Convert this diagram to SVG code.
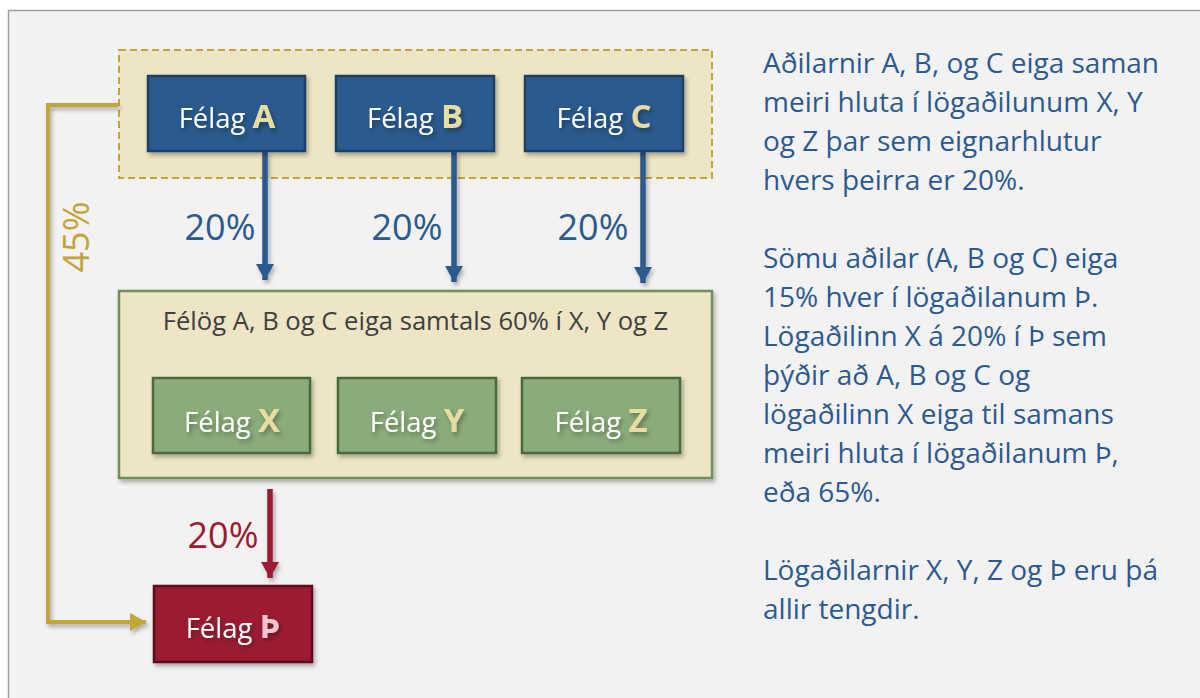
<svg xmlns="http://www.w3.org/2000/svg" width="1200" height="698" viewBox="0 0 1200 698">
<defs>
<filter id="sh" x="-20%" y="-20%" width="140%" height="140%">
<feDropShadow dx="2" dy="3" stdDeviation="2" flood-color="#000" flood-opacity="0.3"/>
</filter>
<filter id="shl" filterUnits="userSpaceOnUse" x="0" y="0" width="1200" height="698">
<feDropShadow dx="2" dy="3" stdDeviation="2" flood-color="#000" flood-opacity="0.3"/>
</filter>
<marker id="mb" markerWidth="17" markerHeight="18" refX="16" refY="9" orient="auto" markerUnits="userSpaceOnUse"><path d="M0,0 L16,9 L0,18 z" fill="#2c5a8e"/></marker>
<marker id="mr" markerWidth="17" markerHeight="18" refX="16" refY="9" orient="auto" markerUnits="userSpaceOnUse"><path d="M0,0 L16,9 L0,18 z" fill="#9b1b30"/></marker>
<marker id="mg" markerWidth="17" markerHeight="18" refX="16" refY="9" orient="auto" markerUnits="userSpaceOnUse"><path d="M0,0 L16,9 L0,18 z" fill="#c2a53a"/></marker>
</defs>
<style>
text{font-family:"Open Sans","Noto Sans","Liberation Sans",sans-serif}
.blue{fill:#2c5a8e;stroke:#1f3f66;stroke-width:2.5}
.green{fill:#8aab7a;stroke:#4a6a3a;stroke-width:2.5}
.red{fill:#9b1b30;stroke:#5e0f1c;stroke-width:2.5}
.lbl{fill:#ffffff;font-size:27.5px}
.big{fill:#e8dca0;font-size:33px;font-weight:bold}
.pct{font-size:36px}
.side{fill:#2c5a8e;font-size:28px}
</style>
<rect x="0" y="0" width="1200" height="698" fill="#ffffff"/>
<rect x="8.5" y="10.5" width="1200" height="700" fill="#f2f2f2" stroke="#a0a0a0" stroke-width="1.5"/>

<g id="group-abc">
<rect x="119" y="50" width="593" height="128" fill="#ede5c3" stroke="#c2a53a" stroke-width="2" stroke-dasharray="7,4"/>
</g>
<g id="group-xyz">
<rect x="119" y="291" width="593" height="187" fill="#ede5c3" stroke="#6f8f5a" stroke-width="2.5" filter="url(#sh)"/>
<text x="415.5" y="330" text-anchor="middle" font-size="25.6" fill="#404040">Félög A, B og C eiga samtals 60% í X, Y og Z</text>
</g>

<g id="connectors" fill="none" filter="url(#shl)">
<polyline points="118,105 48,105 48,622 146,622" stroke="#c2a53a" stroke-width="4" marker-end="url(#mg)"/>
<line x1="265" y1="151" x2="265" y2="280" stroke="#2c5a8e" stroke-width="5.5" marker-end="url(#mb)"/>
<line x1="454" y1="151" x2="454" y2="282" stroke="#2c5a8e" stroke-width="5.5" marker-end="url(#mb)"/>
<line x1="643" y1="151" x2="643" y2="283" stroke="#2c5a8e" stroke-width="5.5" marker-end="url(#mb)"/>
<line x1="270" y1="489" x2="270" y2="578" stroke="#9b1b30" stroke-width="5.5" marker-end="url(#mr)"/>
</g>
<g id="connector-labels">
<text x="220" y="240" text-anchor="middle" class="pct" fill="#2c5a8e">20%</text>
<text x="407" y="240" text-anchor="middle" class="pct" fill="#2c5a8e">20%</text>
<text x="593" y="240" text-anchor="middle" class="pct" fill="#2c5a8e">20%</text>
<text x="223" y="548" text-anchor="middle" class="pct" fill="#9b1b30">20%</text>
<text transform="translate(89,237) rotate(-90)" text-anchor="middle" class="pct" fill="#c2a53a">45%</text>
</g>

<g id="node-a"><rect x="148" y="76" width="157" height="75" class="blue" filter="url(#sh)"/>
<text x="227" y="128" text-anchor="middle" filter="url(#sh)"><tspan class="lbl">Félag </tspan><tspan class="big">A</tspan></text></g>
<g id="node-b"><rect x="336" y="76" width="158" height="75" class="blue" filter="url(#sh)"/>
<text x="415" y="128" text-anchor="middle" filter="url(#sh)"><tspan class="lbl">Félag </tspan><tspan class="big">B</tspan></text></g>
<g id="node-c"><rect x="525" y="76" width="158" height="75" class="blue" filter="url(#sh)"/>
<text x="604" y="128" text-anchor="middle" filter="url(#sh)"><tspan class="lbl">Félag </tspan><tspan class="big">C</tspan></text></g>

<g id="node-x"><rect x="153" y="378" width="157" height="75" class="green" filter="url(#sh)"/>
<text x="232" y="432" text-anchor="middle" filter="url(#sh)"><tspan class="lbl">Félag </tspan><tspan class="big">X</tspan></text></g>
<g id="node-y"><rect x="338" y="378" width="158" height="75" class="green" filter="url(#sh)"/>
<text x="417" y="432" text-anchor="middle" filter="url(#sh)"><tspan class="lbl">Félag </tspan><tspan class="big">Y</tspan></text></g>
<g id="node-z"><rect x="522" y="378" width="158" height="75" class="green" filter="url(#sh)"/>
<text x="601" y="432" text-anchor="middle" filter="url(#sh)"><tspan class="lbl">Félag </tspan><tspan class="big">Z</tspan></text></g>

<g id="node-thorn"><rect x="154" y="586" width="158" height="76" class="red" filter="url(#sh)"/>
<text x="233" y="638" text-anchor="middle" filter="url(#sh)"><tspan class="lbl">Félag </tspan><tspan class="big" style="fill:#f4c6cf">Þ</tspan></text></g>

<g id="description">
<text x="763" y="73" class="side">Aðilarnir A, B, og C eiga saman</text>
<text x="763" y="112" class="side">meiri hluta í lögaðilunum X, Y</text>
<text x="763" y="151" class="side">og Z þar sem eignarhlutur</text>
<text x="763" y="190" class="side">hvers þeirra er 20%.</text>
<text x="763" y="268" class="side">Sömu aðilar (A, B og C) eiga</text>
<text x="763" y="307" class="side">15% hver í lögaðilanum Þ.</text>
<text x="763" y="346" class="side">Lögaðilinn X á 20% í Þ sem</text>
<text x="763" y="385" class="side">þýðir að A, B og C og</text>
<text x="763" y="424" class="side">lögaðilinn X eiga til samans</text>
<text x="763" y="463" class="side">meiri hluta í lögaðilanum Þ,</text>
<text x="763" y="502" class="side">eða 65%.</text>
<text x="763" y="580" class="side">Lögaðilarnir X, Y, Z og Þ eru þá</text>
<text x="763" y="619" class="side">allir tengdir.</text>
</g>
</svg>
